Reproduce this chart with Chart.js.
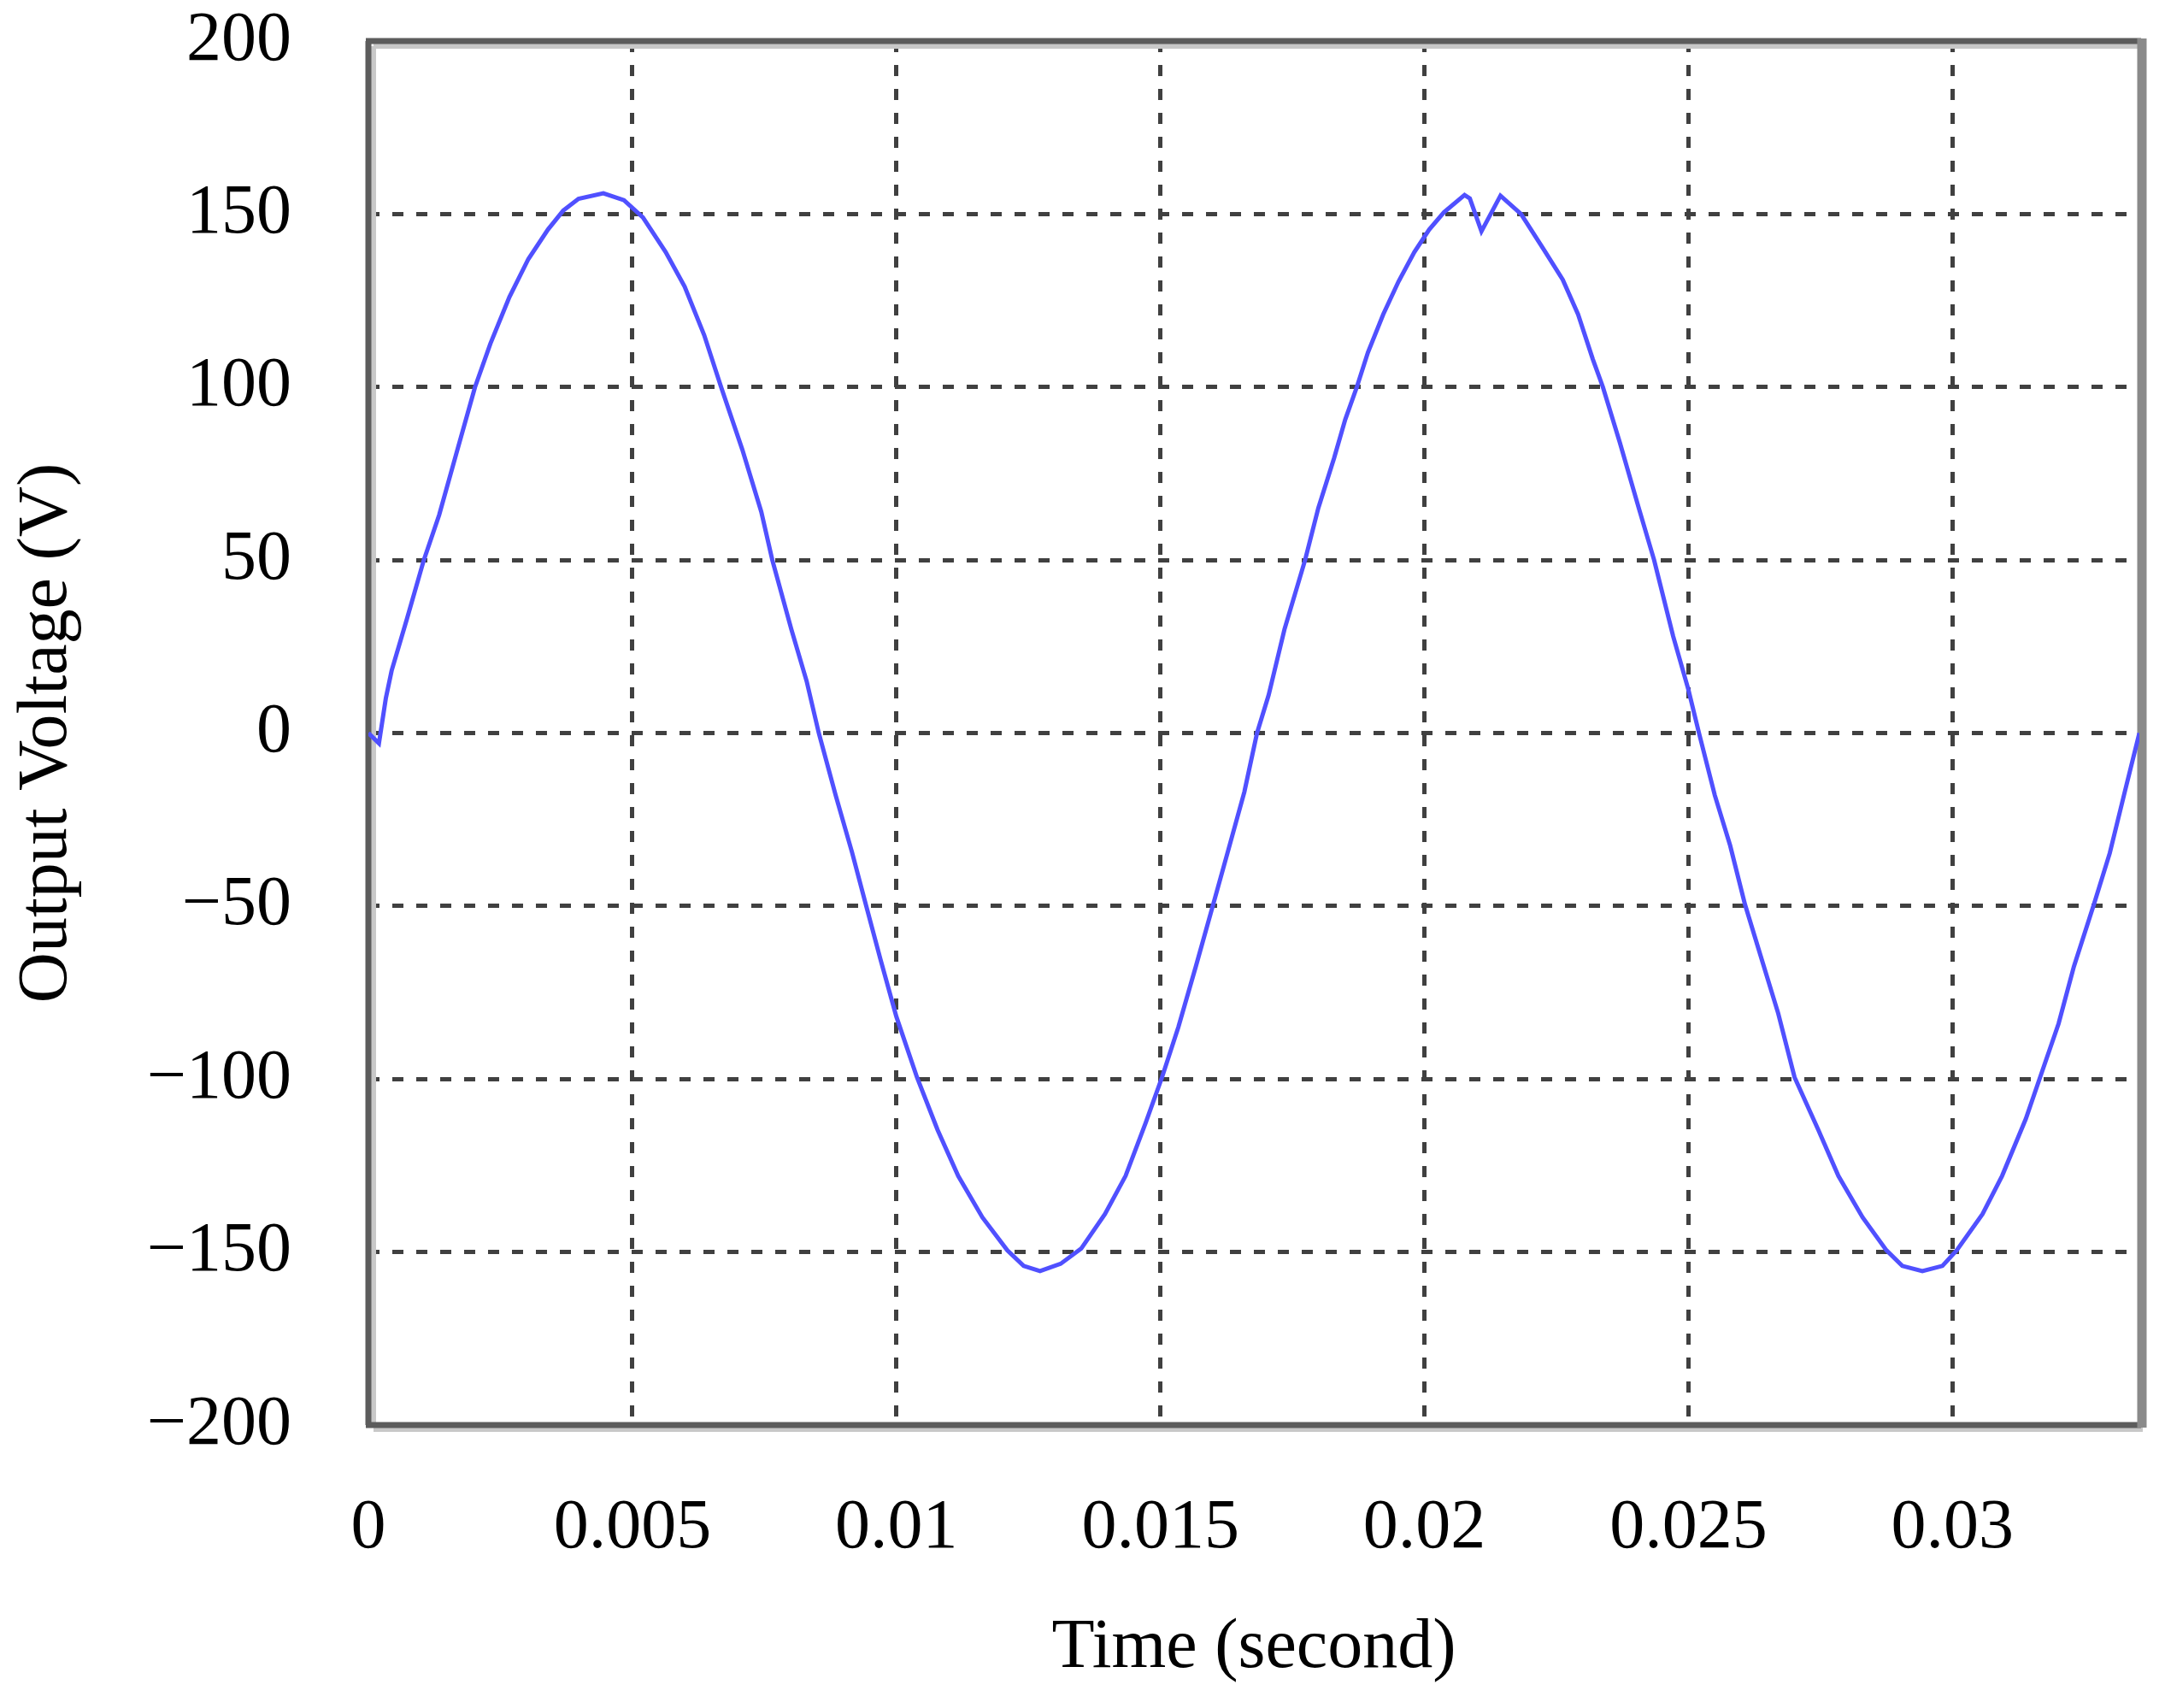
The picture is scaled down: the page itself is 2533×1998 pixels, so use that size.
<!DOCTYPE html>
<html>
<head>
<meta charset="UTF-8">
<title>Output Voltage</title>
<script src="https://cdn.jsdelivr.net/npm/chart.js@4.4.1/dist/chart.umd.min.js"></script>
<style>
  body { margin: 0; background: #ffffff; }
  #graph-container { width: 2533px; height: 1998px; }
</style>
</head>
<body>

<div id="graph-container">
  <canvas id="line-chart"></canvas>
</div>

<script type="text/javascript">

// time (s) and output voltage (V)
var timeValues = [
  0, 0.0002, 0.00033, 0.00044, 0.00073, 0.00105, 0.00134, 0.00167, 0.00202, 0.00231,
  0.00267, 0.00303, 0.0034, 0.00369, 0.00398, 0.00445, 0.00484, 0.0052, 0.00563, 0.00599,
  0.00636, 0.00668, 0.00708, 0.00744, 0.00765, 0.00801, 0.0083, 0.00853, 0.00885, 0.00916,
  0.00942, 0.0097, 0.01, 0.01039, 0.01078, 0.01117, 0.01163, 0.0121, 0.01241, 0.01272,
  0.01311, 0.0135, 0.01395, 0.01434, 0.01472, 0.01503, 0.01534, 0.01567, 0.016, 0.01627,
  0.01659, 0.01683, 0.01705, 0.01735, 0.01774, 0.01799, 0.01829, 0.0185, 0.01872, 0.01893,
  0.01922, 0.01951, 0.01981, 0.02009, 0.02037, 0.02076, 0.02086, 0.02108, 0.02144, 0.02183,
  0.02225, 0.02262, 0.02291, 0.02319, 0.02338, 0.0237, 0.02406, 0.02435, 0.02471, 0.025,
  0.0252, 0.0255, 0.02579, 0.02607, 0.02641, 0.0267, 0.02701, 0.02746, 0.02784, 0.0283,
  0.02875, 0.02905, 0.02943, 0.02981, 0.03008, 0.03057, 0.03094, 0.03139, 0.03166, 0.03201,
  0.0323, 0.03268, 0.03298, 0.03328, 0.03354
];
var voltageValues = [
  0, -3, 10, 18, 33, 50, 63, 81, 100, 112.5,
  126, 137, 145.5, 151, 154.4, 156, 154, 149, 139, 129,
  115, 100, 82, 64, 50, 30, 15, 0, -18, -34.5,
  -49.5, -65.5, -82, -99.5, -114.7, -128, -140, -149.5, -154, -155.5,
  -153.4, -149, -139, -128, -112.7, -99.5, -85, -67.5, -49.5, -34.7,
  -17, 0, 11, 30, 50, 65, 79.5, 90.6, 100, 110,
  121, 130.5, 139, 145.5, 150.5, 155.5, 154.5, 145, 155.3, 150,
  140, 131, 121, 108, 100, 84, 65, 50, 28, 12.5,
  0, -18, -32.5, -49.5, -66.5, -81, -99.5, -114.7, -128, -140,
  -149.5, -154, -155.5, -154, -149.5, -139, -128, -111.5, -99.5, -84,
  -67.5, -49.5, -34.7, -16, 0
];

var xTicks = [0, 0.005, 0.01, 0.015, 0.02, 0.025, 0.03];
var xTickLabels = ['0', '0.005', '0.01', '0.015', '0.02', '0.025', '0.03'];
var yTicks = [-200, -150, -100, -50, 0, 50, 100, 150, 200];
var yTickLabels = ['\u2212200', '\u2212150', '\u2212100', '\u221250', '0', '50', '100', '150', '200'];

var xMin = 0, xMax = 0.03354;
var yMin = -200, yMax = 200;

var serif = "'Liberation Serif', 'Times New Roman', serif";

var puntos = [];
for (var i = 0; i < timeValues.length; i++) {
  puntos.push({ x: timeValues[i], y: voltageValues[i] });
}

// frame round the plot, dark line with a light grey shadow
var marco = {
  id: 'marco',
  beforeDatasetsDraw: function(chart) {
    var a = chart.chartArea;
    var ctx = chart.ctx;
    ctx.save();
    ctx.strokeStyle = '#c8c8c8';
    ctx.lineWidth = 6;
    ctx.beginPath();
    ctx.moveTo(a.left + 6, a.bottom + 5);
    ctx.lineTo(a.right + 4, a.bottom + 5);
    ctx.moveTo(a.left + 6, a.top + 6);
    ctx.lineTo(a.right, a.top + 6);
    ctx.moveTo(a.left + 6, a.top + 6);
    ctx.lineTo(a.left + 6, a.bottom);
    ctx.stroke();
    ctx.strokeStyle = '#5c5c5c';
    ctx.lineWidth = 7;
    ctx.beginPath();
    ctx.moveTo(a.left - 3, a.top);
    ctx.lineTo(a.right + 2, a.top);
    ctx.moveTo(a.left - 3, a.bottom);
    ctx.lineTo(a.right + 2, a.bottom);
    ctx.moveTo(a.left, a.top);
    ctx.lineTo(a.left, a.bottom);
    ctx.stroke();
    ctx.strokeStyle = '#8a8a8a';
    ctx.lineWidth = 11;
    ctx.beginPath();
    ctx.moveTo(a.right + 3, a.top - 3);
    ctx.lineTo(a.right + 3, a.bottom + 3);
    ctx.stroke();
    ctx.restore();
  }
};

var ctx = document.getElementById('line-chart').getContext('2d');
var chartJS = new Chart(ctx, {
  type: 'scatter',
  data: {
    datasets: [{
      label: 'Output Voltage',
      data: puntos,
      showLine: true,
      borderColor: '#5050ff',
      borderWidth: 5,
      pointRadius: 0,
      tension: 0,
      fill: false
    }]
  },
  options: {
    responsive: true,
    maintainAspectRatio: false,
    animation: false,
    layout: { padding: { left: 6, right: 30, top: 48, bottom: 20 } },
    plugins: {
      legend: { display: false },
      tooltip: { enabled: false }
    },
    scales: {
      x: {
        type: 'linear',
        min: xMin,
        max: xMax,
        afterBuildTicks: function(scale) {
          scale.ticks = xTicks.map(function(v) { return { value: v }; });
        },
        afterFit: function(scale) { scale.height = 311; },
        grid: { color: '#404040', lineWidth: 5, drawTicks: false },
        border: { display: false, dash: [13, 15] },
        ticks: {
          padding: 80,
          maxRotation: 0,
          color: '#000000',
          font: { family: serif, size: 82, lineHeight: 1 },
          callback: function(value, index) { return xTickLabels[index]; }
        },
        title: {
          display: true,
          text: 'Time (second)',
          color: '#000000',
          padding: { top: 0, bottom: 0 },
          font: { family: serif, size: 82 }
        }
      },
      y: {
        type: 'linear',
        min: yMin,
        max: yMax,
        afterBuildTicks: function(scale) {
          scale.ticks = yTicks.map(function(v) { return { value: v }; });
        },
        afterFit: function(scale) {
          scale.width = 425;
          scale.paddingTop = 0;
          scale.paddingBottom = 0;
        },
        grid: { color: '#404040', lineWidth: 5, drawTicks: false },
        border: { display: false, dash: [13, 15] },
        ticks: {
          padding: 90,
          color: '#000000',
          font: { family: serif, size: 82, lineHeight: 1 },
          callback: function(value, index) { return yTickLabels[index]; }
        },
        title: {
          display: true,
          text: 'Output Voltage (V)',
          color: '#000000',
          padding: { top: 0, bottom: 0 },
          font: { family: serif, size: 82 }
        }
      }
    }
  },
  plugins: [marco]
});

</script>
</body>
</html>
